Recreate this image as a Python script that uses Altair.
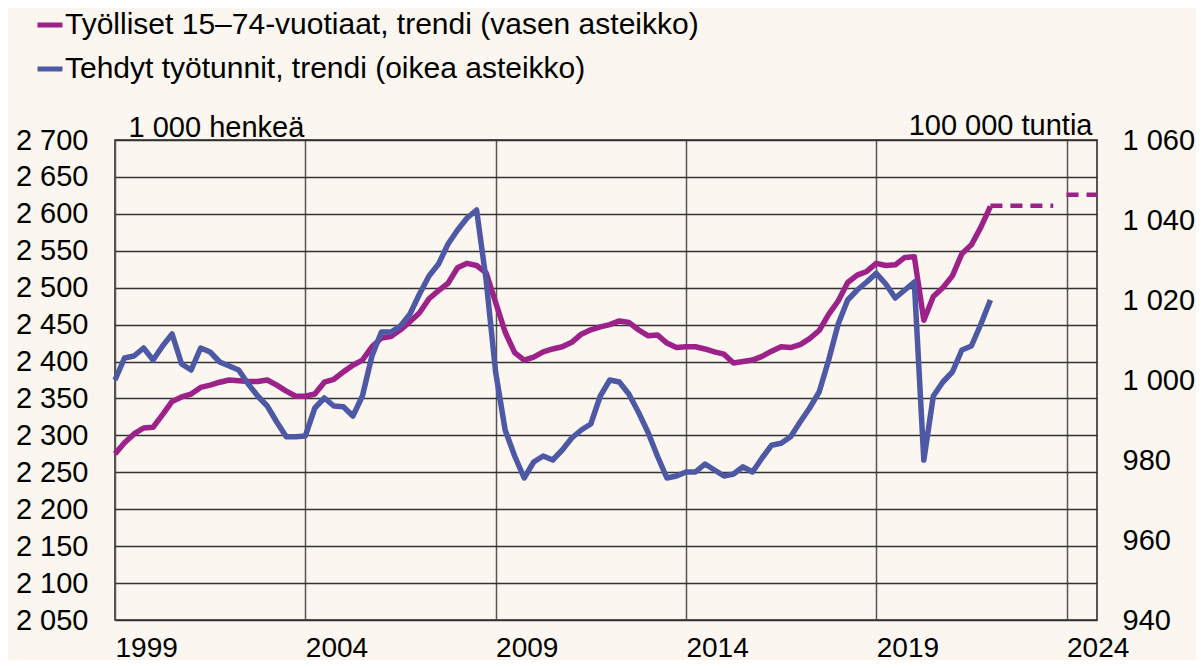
import altair as alt
import pandas as pd

FONT = "Liberation Sans"
PURPLE = "#9C2188"
BLUE = "#4E59A6"
BG = "#FBF6EF"

NAME_P = "Työlliset 15–74-vuotiaat, trendi (vasen asteikko)"
NAME_B = "Tehdyt työtunnit, trendi (oikea asteikko)"

# quarterly time index 1999Q1 .. 2022Q1
quarters = [1999 + i / 4 for i in range(93)]

# employed persons 15-74, trend (1 000 persons, left axis)
employed = [
    2275, 2290, 2302, 2310,
    2311, 2328, 2346, 2352,
    2356, 2365, 2368, 2372,
    2375, 2374, 2373, 2373,
    2375, 2368, 2360, 2353,
    2353, 2356, 2372, 2376,
    2386, 2395, 2402, 2420,
    2432, 2434, 2443, 2454,
    2466, 2485, 2496, 2506,
    2527, 2533, 2530, 2520,
    2480, 2440, 2412, 2402,
    2406, 2413, 2417, 2420,
    2426, 2437, 2443, 2447,
    2450, 2455, 2453, 2443,
    2435, 2436, 2425, 2419,
    2420, 2420, 2417, 2413,
    2410, 2398, 2400, 2402,
    2407, 2414, 2420, 2419,
    2423, 2431, 2442, 2464,
    2482, 2507, 2517, 2522,
    2533, 2530, 2531, 2541,
    2542, 2456, 2488, 2500,
    2516, 2546, 2558, 2582,
    2610,
]

# hours worked, trend (100 000 hours, right axis)
hours = [
    1000, 1005.5, 1006, 1008,
    1005, 1008.5, 1011.5, 1004,
    1002.5, 1008, 1007, 1004.5,
    1003.5, 1002.5, 999, 996,
    993.5, 989.5, 985.8, 985.8,
    986, 993, 995.5, 993.5,
    993.3, 991, 996, 1006,
    1012, 1012, 1013.5, 1016.5,
    1021.5, 1026, 1029, 1034,
    1037.5, 1040.5, 1042.5, 1025,
    1002, 987.5, 981, 975.5,
    979.5, 981, 980, 982.5,
    985.5, 987.5, 989, 996,
    1000, 999.5, 996.5, 992,
    987, 981, 975.5, 976,
    977, 977, 979, 977.5,
    976, 976.5, 978.3, 977,
    980.5, 983.7, 984.2, 985.8,
    989.5, 993, 997, 1005,
    1014, 1020, 1022.5, 1024.5,
    1026.7, 1024, 1020.5, 1022.5,
    1024.5, 980, 996, 999.5,
    1002, 1007.5, 1008.5, 1014,
    1020,
]

# forecast segments (dashed)
fc_start = [2022.0, 2024.0]
fc_end = [2023.65, 2024.8]
fc_value = [2611, 2626]

x_ticks = [1999, 2004, 2009, 2014, 2019, 2024]
left_ticks = [2050, 2100, 2150, 2200, 2250, 2300, 2350, 2400, 2450, 2500,
              2550, 2600, 2650, 2700]
right_ticks = [940, 960, 980, 1000, 1020, 1040, 1060]

df_p = pd.DataFrame({"t": quarters, "v": employed, "s": NAME_P})
df_b = pd.DataFrame({"t": quarters, "v": hours, "s": NAME_B})
df_fc = pd.DataFrame({"t0": fc_start, "t1": fc_end, "v": fc_value})

thousands = "replace(format(datum.value, ','), ',', ' ')"
FS = 29

x_scale = alt.Scale(domain=[1999, 2024.8], nice=False, zero=False)
x_axis = alt.Axis(values=x_ticks, labelExpr="'' + datum.value", labelAlign="left",
                  labelBaseline="top", labelPadding=14, grid=True, gridColor="#555555",
                  gridWidth=1.5, ticks=False, tickSize=0, domain=False, title=None,
                  labelFont=FONT, labelFontSize=28, labelColor="black")

yl_scale = alt.Scale(domain=[2050, 2700], nice=False, zero=False)
yl_axis = alt.Axis(values=left_ticks, labelExpr=thousands, grid=True, gridColor="#333333",
                   gridWidth=1.3, ticks=False, tickSize=0, domain=False, labelPadding=27,
                   labelFont=FONT, labelFontSize=FS, labelColor="black",
                   title="1 000 henkeä", titleAngle=0, titleX=13, titleY=-4,
                   titleAlign="left", titleBaseline="alphabetic", titleFont=FONT,
                   titleFontSize=FS, titleFontWeight="normal", titleColor="black")

yr_scale = alt.Scale(domain=[940, 1060], nice=False, zero=False)
yr_axis = alt.Axis(values=right_ticks, orient="right", labelExpr=thousands, grid=False,
                   ticks=False, tickSize=0, domain=False, labelPadding=25, labelAlign="left",
                   labelFont=FONT, labelFontSize=FS, labelColor="black",
                   title="100 000 tuntia", titleAngle=0, titleX=-5, titleY=-6,
                   titleAlign="right", titleBaseline="alphabetic", titleFont=FONT,
                   titleFontSize=FS, titleFontWeight="normal", titleColor="black")

legend = alt.Legend(title=None, orient="none", legendX=-80, legendY=-130,
                    symbolType="stroke", symbolStrokeWidth=5, symbolSize=625,
                    labelFont=FONT, labelFontSize=30, labelColor="black", labelLimit=1000,
                    rowPadding=14, labelOffset=0, padding=0, direction="vertical")
color = alt.Color("s:N", scale=alt.Scale(domain=[NAME_P, NAME_B], range=[PURPLE, BLUE]),
                  legend=legend)

purple_line = alt.Chart(df_p).mark_line(strokeWidth=5.5, strokeJoin="round").encode(
    x=alt.X("t:Q", scale=x_scale, axis=x_axis),
    y=alt.Y("v:Q", scale=yl_scale, axis=yl_axis),
    color=color,
)

forecast = alt.Chart(df_fc).mark_rule(color=PURPLE, strokeWidth=4.5, strokeDash=[12, 8]).encode(
    x=alt.X("t0:Q", scale=x_scale, axis=x_axis),
    x2="t1:Q",
    y=alt.Y("v:Q", scale=yl_scale, axis=yl_axis),
)

blue_line = alt.Chart(df_b).mark_line(strokeWidth=5.5, strokeJoin="round").encode(
    x=alt.X("t:Q", scale=x_scale, axis=x_axis),
    y=alt.Y("v:Q", scale=yr_scale, axis=yr_axis),
    color=color,
)

left = alt.layer(purple_line, forecast)

chart = alt.layer(left, blue_line).resolve_scale(y="independent").properties(
    width=982,
    height=480,
    padding={"left": 107, "top": 132, "right": 99, "bottom": 40},
    autosize=alt.AutoSizeParams(type="none"),
    background=BG,
).configure_view(stroke="#222222", strokeWidth=1.5)

chart.save("out.html", embed_options={"renderer": "svg", "actions": False})
